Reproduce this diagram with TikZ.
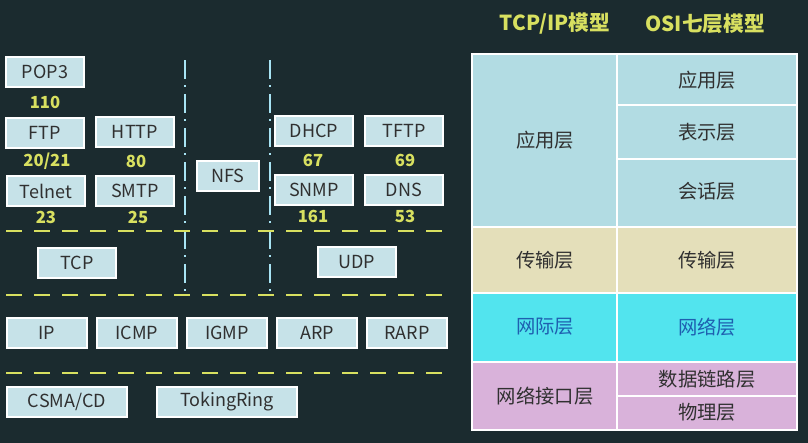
\documentclass[tikz,border=0pt]{standalone}
\usepackage{fontspec}
\setmainfont{Noto Sans CJK SC}
\definecolor{bgdark}{HTML}{1B2B2F}
\definecolor{boxfill}{HTML}{C6E2E8}
\definecolor{numyellow}{HTML}{D8E060}
\definecolor{appblue}{HTML}{B2DCE3}
\definecolor{transtan}{HTML}{E4DFBA}
\definecolor{netcyan}{HTML}{52E4EE}
\definecolor{linkpink}{HTML}{D9B2DA}
\definecolor{txtdark}{HTML}{303030}
\definecolor{netblue}{HTML}{1E5FB0}
\definecolor{sepcyan}{HTML}{A8E4F4}
\tikzset{
	proto/.style={draw=white, line width=1pt, fill=boxfill, text=txtdark, minimum width=58.5pt, minimum height=22.5pt, inner sep=0pt, font=\fontsize{13.5}{13.5}\selectfont},
	port/.style={text=numyellow, font=\bfseries\fontsize{12.5}{12.5}\selectfont, inner sep=0pt},
	layer/.style={text=txtdark, font=\fontsize{14.5}{14.5}\selectfont, inner sep=0pt},
	cell/.style={draw=white, line width=1.5pt},
	sepline/.style={numyellow, line width=2pt, dash pattern=on 12pt off 9pt},
	divline/.style={sepcyan, line width=1.5pt, dash pattern=on 14pt off 5pt on 1.5pt off 5pt}
}
\begin{document}
\begin{tikzpicture}[x=0.75pt, y=-0.75pt]
	\fill[bgdark] (0,0) rectangle (808,443);
	\useasboundingbox (0,0) rectangle (808,443);
	% headings
	\node[text=numyellow, font=\bfseries\fontsize{15.5}{15.5}\selectfont] (hdtcp) at (555,24) {TCP/IP模型};
	\node[text=numyellow, font=\bfseries\fontsize{15.5}{15.5}\selectfont] (hdosi) at (705,24) {OSI七层模型};
	% left part: application protocols
	\node[proto] (pop) at (45,72) {POP3};
	\node[port] (ppop) at (45,102) {110};
	\node[proto] (ftp) at (45,133) {FTP};
	\node[port] (pftp) at (47,161) {20/21};
	\node[proto] (http) at (135,132) {HTTP};
	\node[port] (phttp) at (136,161) {80};
	\node[proto] (telnet) at (46,191) {Telnet};
	\node[port] (ptelnet) at (46,217) {23};
	\node[proto] (smtp) at (135,191) {SMTP};
	\node[port] (psmtp) at (138,217) {25};
	\node[proto, minimum width=46.5pt] (nfs) at (228,176) {NFS};
	\node[proto] (dhcp) at (314,131) {DHCP};
	\node[port] (pdhcp) at (313,160) {67};
	\node[proto] (tftp) at (404,131) {TFTP};
	\node[port] (ptftp) at (405,160) {69};
	\node[proto] (snmp) at (314,190) {SNMP};
	\node[port] (psnmp) at (313,216) {161};
	\node[proto] (dns) at (404,190) {DNS};
	\node[port] (pdns) at (405,216) {53};
	\draw[divline] (185,60) -- (185,292);
	\draw[divline] (270,60) -- (270,292);
	\draw[sepline] (6,231) -- (452,231);
	% transport
	\node[proto] (tcp) at (77,263) {TCP};
	\node[proto] (udp) at (357,262) {UDP};
	\draw[sepline] (6,295) -- (452,295);
	% network
	\node[proto, minimum width=60pt] (ip) at (47,333) {IP};
	\node[proto, minimum width=60pt] (icmp) at (137,333) {ICMP};
	\node[proto, minimum width=60pt] (igmp) at (227,333) {IGMP};
	\node[proto, minimum width=60pt] (arp) at (317,333) {ARP};
	\node[proto, minimum width=60pt] (rarp) at (407,333) {RARP};
	\draw[sepline] (6,373) -- (452,373);
	% link
	\node[proto, minimum width=90pt] (csma) at (67,402) {CSMA/CD};
	\node[proto, minimum width=105pt] (token) at (227,402) {TokingRing};
	% right part: layer table
	\fill[appblue] (472,54) rectangle (797,227);
	\fill[transtan] (472,227) rectangle (797,293);
	\fill[netcyan] (472,293) rectangle (797,362);
	\fill[linkpink] (472,362) rectangle (797,430);
	\draw[cell] (472,54) rectangle (797,430);
	\draw[cell] (617,54) -- (617,430);
	\draw[cell] (472,227) -- (797,227);
	\draw[cell] (472,293) -- (797,293);
	\draw[cell] (472,362) -- (797,362);
	\draw[cell] (617,105) -- (797,105);
	\draw[cell] (617,159) -- (797,159);
	\draw[cell] (617,396) -- (797,396);
	\node[layer] (tapp) at (545,140) {应用层};
	\node[layer] (ttrans) at (545,260) {传输层};
	\node[layer, text=netblue] (tnet) at (545,327) {网际层};
	\node[layer] (tlink) at (545,396) {网络接口层};
	\node[layer] (oapp) at (707,80) {应用层};
	\node[layer] (opres) at (707,132) {表示层};
	\node[layer] (osess) at (707,191) {会话层};
	\node[layer] (otrans) at (707,260) {传输层};
	\node[layer, text=netblue] (onet) at (707,327) {网络层};
	\node[layer] (odata) at (707,379) {数据链路层};
	\node[layer] (ophys) at (707,412) {物理层};
\end{tikzpicture}
\end{document}
